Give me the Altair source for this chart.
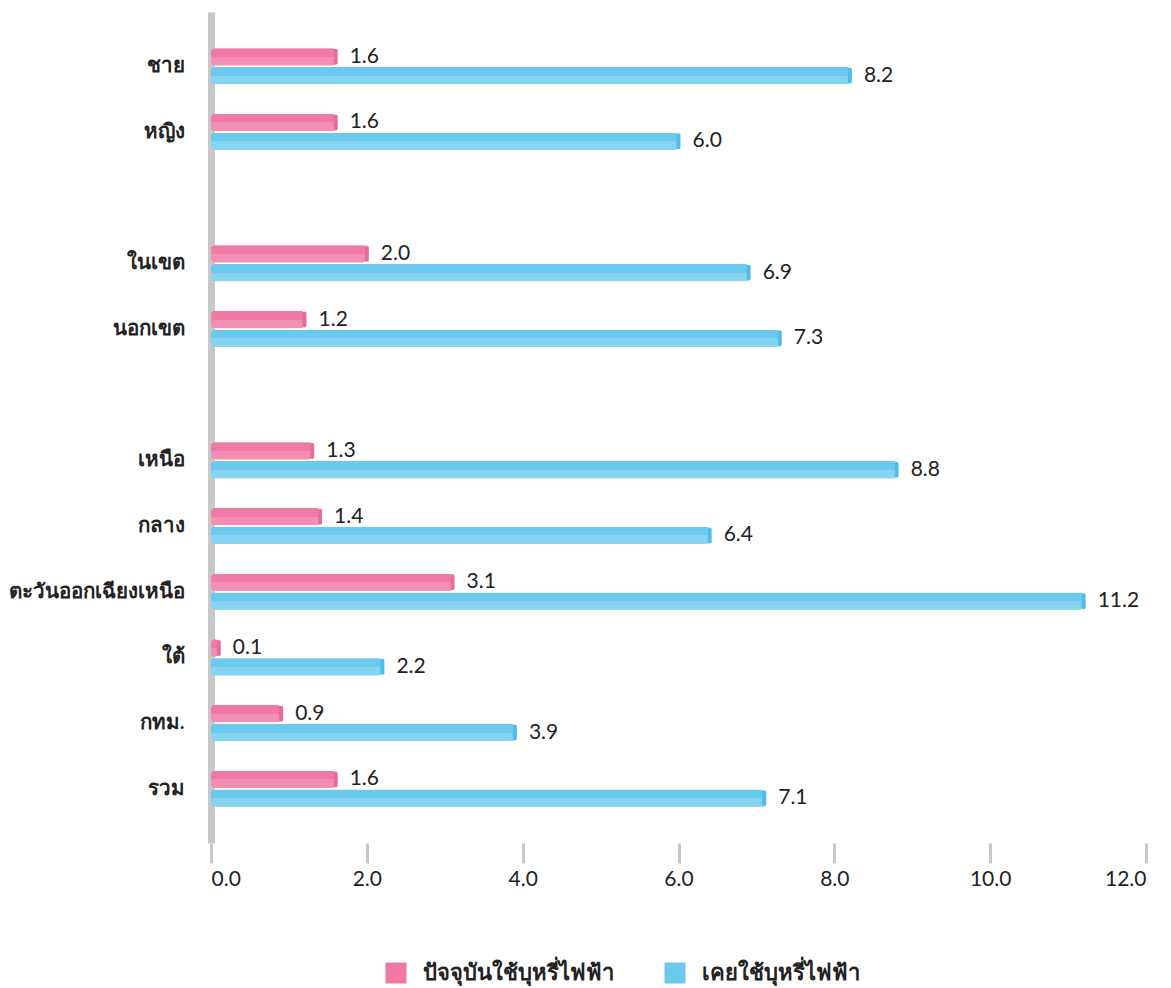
import altair as alt
import pandas as pd

categories = ["ชาย", "หญิง", "ในเขต", "นอกเขต", "เหนือ", "กลาง",
              "ตะวันออกเฉียงเหนือ", "ใต้", "กทม.", "รวม"]
current_use = [1.6, 1.6, 2.0, 1.2, 1.3, 1.4, 3.1, 0.1, 0.9, 1.6]
ever_use = [8.2, 6.0, 6.9, 7.3, 8.8, 6.4, 11.2, 2.2, 3.9, 7.1]
series_names = ["ปัจจุบันใช้บุหรี่ไฟฟ้า", "เคยใช้บุหรี่ไฟฟ้า"]
x_ticks = [0, 2, 4, 6, 8, 10, 12]

# row order on the y axis, with blank spacer rows between groups
row_order = ["ชาย", "หญิง", " ", "ในเขต", "นอกเขต", "  ", "เหนือ", "กลาง",
             "ตะวันออกเฉียงเหนือ", "ใต้", "กทม.", "รวม"]

rows = []
for c, a, b in zip(categories, current_use, ever_use):
    rows.append({"cat": c, "series": series_names[0], "value": a})
    rows.append({"cat": c, "series": series_names[1], "value": b})
df = pd.DataFrame(rows)

PINK = "#f07aa5"
PINK_L = "#f38fb5"
PINK_D = "#ea6a9b"
BLUE = "#6cc9ee"
BLUE_L = "#86d3f2"
BLUE_D = "#50bde9"
FONT = "Lato"

y_enc = alt.Y("cat:N", sort=row_order,
              scale=alt.Scale(domain=row_order, paddingInner=0.45, paddingOuter=0.55),
              axis=alt.Axis(title=None, domain=True, domainColor="#c8c8c8", domainWidth=7,
                            ticks=False, labelPadding=27, labelFontSize=20.5,
                            labelLimit=400,
                            labelFont=FONT, labelColor="#222222", labelFontWeight=600))
yoff = alt.YOffset("series:N", sort=series_names,
                   scale=alt.Scale(domain=series_names, paddingInner=0.08))
x_enc = alt.X("value:Q", scale=alt.Scale(domain=[0, 12], nice=False),
              axis=alt.Axis(title=None, values=x_ticks, format=".1f", grid=False,
                            domain=False, tickColor="#c8c8c8", tickWidth=3, tickSize=20,
                            labelPadding=5, labelFontSize=21, labelFont=FONT,
                            labelColor="#222222"))

base = alt.Chart(df)

legend_bars = base.mark_bar(cornerRadius=4).encode(
    x=x_enc, y=y_enc, yOffset=yoff,
    color=alt.Color("series:N", sort=series_names,
                    scale=alt.Scale(domain=series_names, range=[PINK, BLUE]),
                    legend=alt.Legend(title=None, orient="none", direction="horizontal",
                                      legendX=174, legendY=950,
                                      symbolType="square", symbolSize=441,
                                      symbolStrokeWidth=0, columnPadding=50,
                                      labelOffset=16,
                                      labelFontSize=22, labelFont=FONT,
                                      labelFontWeight="bold", labelColor="#222222",
                                      labelLimit=400, symbolOffset=0)),
)


def grad(dark, light):
    return alt.Gradient(
        gradient="linear", x1=0, x2=0, y1=0, y2=1,
        stops=[alt.GradientStop(color=dark, offset=0),
               alt.GradientStop(color=dark, offset=0.5),
               alt.GradientStop(color=light, offset=0.5),
               alt.GradientStop(color=light, offset=1)])


def series_layers(name, dark, light, cap):
    sub = base.transform_filter(alt.datum.series == name)
    bars = sub.mark_bar(cornerRadius=4, fill=grad(dark, light)).encode(
        x=x_enc, y=y_enc, yOffset=yoff)
    caps = sub.mark_tick(thickness=4, size=16, cornerRadius=2, color=cap,
                         opacity=1).encode(x=x_enc, y=y_enc, yOffset=yoff)
    return [bars, caps]


pink_layers = series_layers(series_names[0], PINK, PINK_L, PINK_D)
blue_layers = series_layers(series_names[1], BLUE, BLUE_L, BLUE_D)

labels = base.mark_text(align="left", baseline="middle", dx=14, fontSize=21,
                        font=FONT, color="#222222").encode(
    x=x_enc, y=y_enc, yOffset=yoff, text=alt.Text("value:Q", format=".1f"))

chart = alt.layer(legend_bars, *pink_layers, *blue_layers, labels).properties(
    width=935, height=831, padding={"left": 0, "top": 4, "right": 5, "bottom": 5}
).configure_view(stroke=None).configure_axis(labelFontWeight="normal")

chart.save("out.html", embed_options={"renderer": "svg", "actions": False})
